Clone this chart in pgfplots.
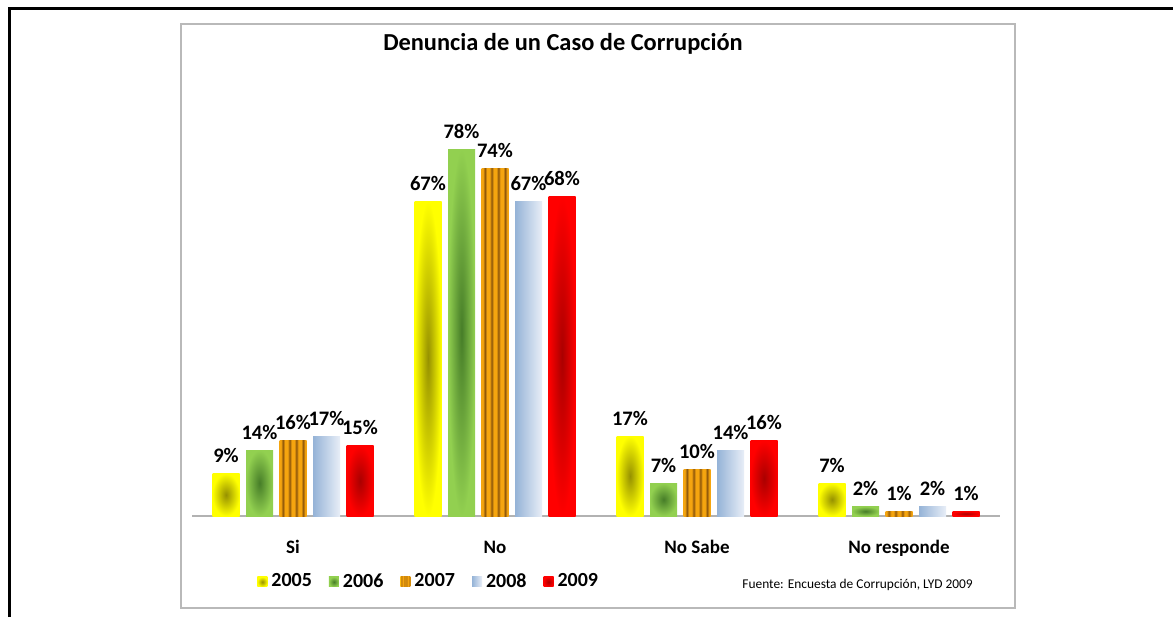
\documentclass[border=0pt]{standalone}
\usepackage{fontspec}
\setmainfont{Carlito}
\usepackage{pgfplots}
\pgfplotsset{compat=1.18}
\definecolor{yel}{RGB}{255,255,0}
\definecolor{yelc}{RGB}{150,145,0}
\definecolor{grn}{RGB}{146,208,80}
\definecolor{grnc}{RGB}{70,125,40}
\definecolor{org}{RGB}{245,165,15}
\definecolor{brn}{RGB}{140,85,10}
\definecolor{blL}{RGB}{149,179,215}
\definecolor{blR}{RGB}{232,238,247}
\definecolor{red1}{RGB}{255,0,0}
\definecolor{redc}{RGB}{170,0,0}
\pgfdeclarehorizontalshading{stripes}{100bp}{color(0bp)=(org); color(25bp)=(org); color(27.5bp)=(org); color(31.25bp)=(brn); color(35bp)=(org); color(40bp)=(org); color(43.75bp)=(brn); color(47.5bp)=(org); color(52.5bp)=(org); color(56.25bp)=(brn); color(60bp)=(org); color(65bp)=(org); color(68.75bp)=(brn); color(72.5bp)=(org); color(100bp)=(org)}
\pgfplotsset{
  bbase/.style={ybar, bar width=13.5pt, draw=none},
  s5/.style={bbase, bar shift=-33.5pt, every node near coord/.append style={xshift=-33.5pt}, inner color=yelc, outer color=yel},
  s6/.style={bbase, bar shift=-16.75pt, every node near coord/.append style={xshift=-16.75pt}, inner color=grnc, outer color=grn},
  s7/.style={bbase, bar shift=0pt, shade, shading=stripes},
  s8/.style={bbase, bar shift=16.75pt, every node near coord/.append style={xshift=16.75pt}, left color=blL, right color=blR},
  s9/.style={bbase, bar shift=33.5pt, every node near coord/.append style={xshift=33.5pt}, inner color=redc, outer color=red1},
}
\begin{document}
\begin{tikzpicture}[x=1pt,y=1pt]
\useasboundingbox (0,0) rectangle (586.5,308.5);
\fill[white] (0,0) rectangle (586.5,308.5);
\draw[line width=1.5pt] (4.5,0) -- (4.5,304.2) -- (586.5,304.2);
\draw[gray!55, line width=0.6pt] (90.5,4.5) rectangle (507.5,296.5);
\node[anchor=base, font=\bfseries\fontsize{12.2}{14}\selectfont, inner sep=0pt] at (281.5,283) {Denuncia de un Caso de Corrupción};
\node[anchor=base west, font=\fontsize{6.7}{8}\selectfont, inner sep=0pt] at (371,14.5) {Fuente: Encuesta de Corrupción, LYD 2009};
\begin{axis}[
  at={(96pt,50.5pt)}, anchor=south west,
  x=101pt, y=2.35pt,
  xmin=-0.5, xmax=3.5, ymin=0, ymax=85,
  clip=false,
  axis y line=none,
  axis x line=bottom,
  x axis line style={-, gray!60, line width=0.6pt},
  xtick={0,1,2,3},
  xticklabels={Si,No,No Sabe,No responde},
  major tick length=0pt,
  xticklabel style={anchor=base, yshift=-18.5pt, font=\bfseries\fontsize{9.5}{11}\selectfont},
  /pgf/number format/assume math mode=true,
  nodes near coords={\pgfmathprintnumber{\pgfplotspointmeta}\%},
  every node near coord/.append style={anchor=base, yshift=5.5pt, font=\bfseries\fontsize{10.3}{12}\selectfont, text=black},
  every axis plot post/.append style={legend image code/.code={\path[##1, draw=none] (0pt,-2.5pt) rectangle (5pt,2.5pt);}},
  legend columns=5,
  legend style={at={(0.293,-0.165)}, anchor=center, draw=none, fill=none,
    font=\bfseries\fontsize{10}{12}\selectfont,
    nodes={inner sep=1pt},
    /tikz/every odd column/.append style={column sep=1pt},
    /tikz/every even column/.append style={column sep=7.5pt}},
]
\addplot[s5] coordinates {(0,9)}; \addlegendentry{2005}
\addplot[s5, forget plot] coordinates {(1,67)};
\addplot[s5, forget plot] coordinates {(2,17)};
\addplot[s5, forget plot] coordinates {(3,7)};
\addplot[s6] coordinates {(0,14)}; \addlegendentry{2006}
\addplot[s6, forget plot] coordinates {(1,78)};
\addplot[s6, forget plot] coordinates {(2,7)};
\addplot[s6, forget plot] coordinates {(3,2)};
\addplot[s7] coordinates {(0,16)}; \addlegendentry{2007}
\addplot[s7, forget plot] coordinates {(1,74)};
\addplot[s7, forget plot] coordinates {(2,10)};
\addplot[s7, forget plot] coordinates {(3,1)};
\addplot[s8] coordinates {(0,17)}; \addlegendentry{2008}
\addplot[s8, forget plot] coordinates {(1,67)};
\addplot[s8, forget plot] coordinates {(2,14)};
\addplot[s8, forget plot] coordinates {(3,2)};
\addplot[s9] coordinates {(0,15)}; \addlegendentry{2009}
\addplot[s9, forget plot] coordinates {(1,68)};
\addplot[s9, forget plot] coordinates {(2,16)};
\addplot[s9, forget plot] coordinates {(3,1)};
\end{axis}
\end{tikzpicture}
\end{document}
